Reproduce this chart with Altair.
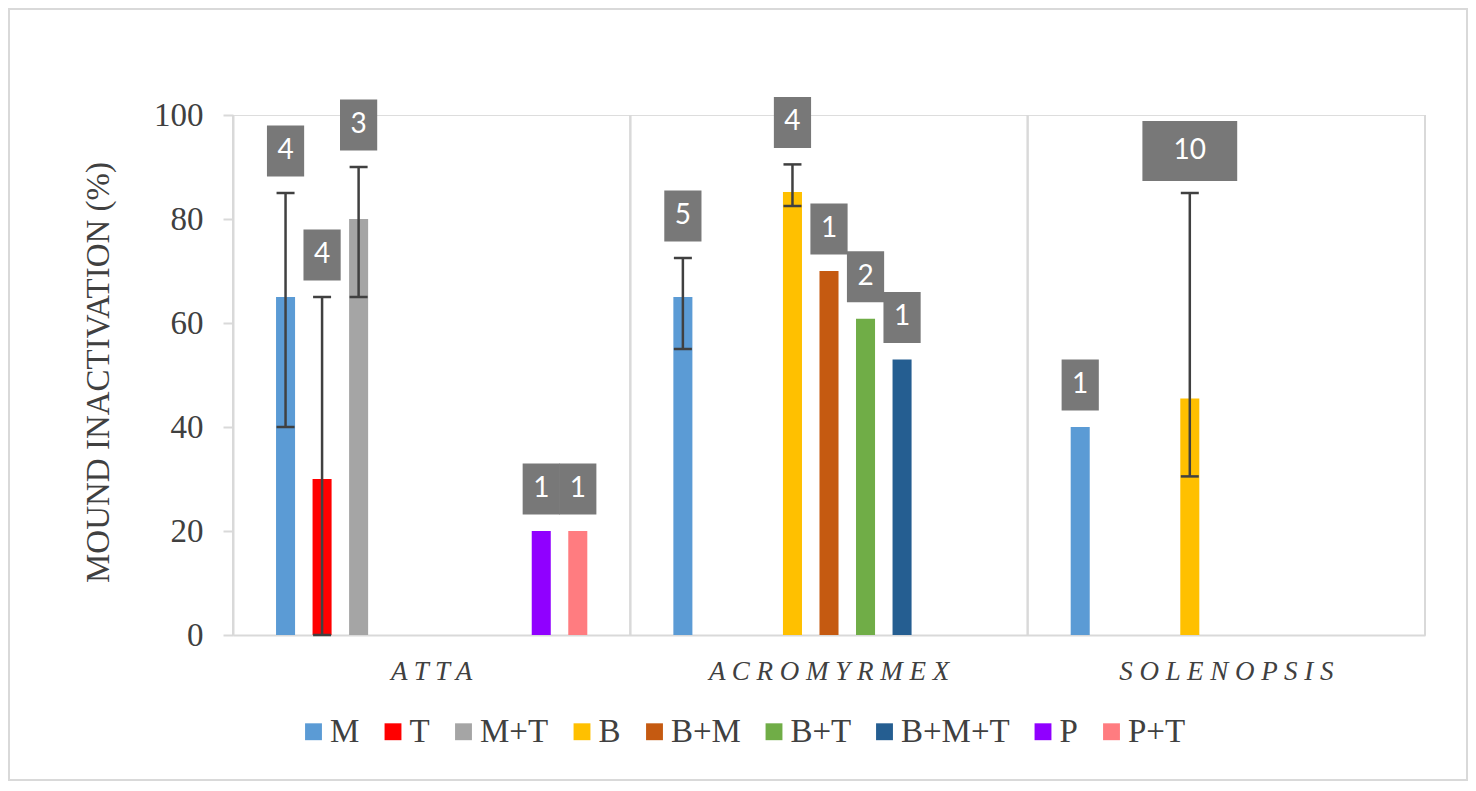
import altair as alt
import pandas as pd
import numpy as np

# ---- data ----
genera = ["ATTA", "ACROMYRMEX", "SOLENOPSIS"]
treatments = ["M", "T", "M+T", "B", "B+M", "B+T", "B+M+T", "P", "P+T"]
colors = ["#5B9BD5", "#FF0000", "#A5A5A5", "#FFC000", "#C55A11",
          "#70AD47", "#255E91", "#9000FF", "#FF7C80"]

genus = ["ATTA", "ATTA", "ATTA", "ATTA", "ATTA",
         "ACROMYRMEX", "ACROMYRMEX", "ACROMYRMEX", "ACROMYRMEX", "ACROMYRMEX",
         "SOLENOPSIS", "SOLENOPSIS"]
treatment = ["M", "T", "M+T", "P", "P+T",
             "M", "B", "B+M", "B+T", "B+M+T",
             "M", "B"]
mean = [65, 30, 80, 20, 20,
        65, 85.2, 70, 60.8, 53,
        40, 45.5]
err_low = [40, 0, 65, None, None,
           55, 82.5, None, None, None,
           None, 30.5]
err_high = [85, 65, 90, None, None,
            72.5, 90.5, None, None, None,
            None, 85]
n_obs = [4, 4, 3, 1, 1,
         5, 4, 1, 2, 1,
         1, 10]

df = pd.DataFrame({"genus": genus, "treatment": treatment, "mean": mean,
                   "low": err_low, "high": err_high, "n": n_obs})
df["top"] = np.fmax(df["mean"], df["high"].astype(float))
df_err = df.dropna(subset=["low", "high"])
df_g = pd.DataFrame({"genus": genera})

GRID = "#D9D9D9"
TXT = "#404040"
SERIF = "Liberation Serif"

# empty slots at both ends of each group (Excel gap width)
offset_domain = ["_l"] + treatments + ["_r"]

x_enc = alt.X("genus:N", sort=genera,
              scale=alt.Scale(paddingInner=0, paddingOuter=0),
              axis=alt.Axis(title=None, labelAngle=0, ticks=False, grid=False,
                            domainColor=GRID, domainWidth=2,
                            labelFont=SERIF, labelFontStyle="italic",
                            labelFontSize=27, labelColor=TXT, labelPadding=36,
                            labelLimit=0, labelAlign="center",
                            labelExpr="join(split(datum.label, ''), ' ')"))
xo_enc = alt.XOffset("treatment:N",
                     scale=alt.Scale(domain=offset_domain, paddingInner=0.479,
                                     paddingOuter=0.178))
y_scale = alt.Scale(domain=[0, 100], nice=False)
y_axis = alt.Axis(values=[0, 20, 40, 60, 80, 100], grid=False,
                  domainColor=GRID, domainWidth=2, tickColor=GRID, tickWidth=2,
                  tickSize=10, labelFont=SERIF, labelFontSize=33,
                  labelColor=TXT, labelPadding=20,
                  title="MOUND INACTIVATION (%)", titleFont=SERIF,
                  titleFontSize=33, titleFontWeight="normal", titleColor=TXT,
                  titleAngle=-90, titleX=-135, titleY=257,
                  titleAlign="center", titleBaseline="middle")

# vertical separators between genera (band starts and ends)
sep0 = alt.Chart(df_g).mark_rule(color=GRID, strokeWidth=2).encode(
    x=alt.X("genus:N", sort=genera, bandPosition=0),
    y=alt.datum(0, scale=y_scale), y2=alt.datum(100))
sep1 = alt.Chart(df_g).mark_rule(color=GRID, strokeWidth=2).encode(
    x=alt.X("genus:N", sort=genera, bandPosition=1),
    y=alt.datum(0), y2=alt.datum(100))

bars = alt.Chart(df).mark_bar().encode(
    x=x_enc, xOffset=xo_enc,
    y=alt.Y("mean:Q", scale=y_scale, axis=y_axis),
    color=alt.Color("treatment:N", sort=treatments,
                    scale=alt.Scale(domain=treatments, range=colors),
                    legend=alt.Legend(title=None, orient="none",
                                      direction="horizontal",
                                      legendX=64, legendY=600, padding=0,
                                      symbolType="square", symbolSize=285,
                                      symbolStrokeWidth=0, symbolOpacity=1,
                                      labelFont=SERIF, labelFontSize=33,
                                      labelColor=TXT, labelOffset=0,
                                      columnPadding=16.5, labelLimit=0)))

err_rule = alt.Chart(df_err).mark_rule(color="#404040", strokeWidth=2.5).encode(
    x=x_enc, xOffset=xo_enc, y="low:Q", y2="high:Q")
cap_hi = alt.Chart(df_err).mark_tick(color="#404040", thickness=2.5, size=18,
                                     opacity=1).encode(
    x=x_enc, xOffset=xo_enc, y="high:Q")
cap_lo = alt.Chart(df_err).mark_tick(color="#404040", thickness=2.5, size=18,
                                     opacity=1).encode(
    x=x_enc, xOffset=xo_enc, y="low:Q")

narrow = "M-0.62,-0.85H0.62V0.85H-0.62Z"
wide = "M-1.58,-1H1.58V1H-1.58Z"
boxes = alt.Chart(df).mark_point(filled=True, color="#787878", opacity=1,
                                 size=3600, strokeWidth=0, yOffset=-42).encode(
    x=x_enc, xOffset=xo_enc, y="top:Q",
    shape=alt.condition("datum.n >= 10", alt.value(wide), alt.value(narrow)))
labels = alt.Chart(df).mark_text(color="white", font="Lato", fontSize=28,
                                 baseline="middle", yOffset=-42).encode(
    x=x_enc, xOffset=xo_enc, y="top:Q", text="n:Q")

frame = alt.Chart(alt.Data(values=[{"a": 1}])).mark_rect(
    fillOpacity=0, stroke=GRID, strokeWidth=2).encode(
    x=alt.value(-224), x2=alt.value(1234), y=alt.value(-106), y2=alt.value(665))

chart = alt.layer(sep0, sep1, bars, err_rule, cap_hi, cap_lo, boxes, labels,
                  frame).properties(
    width=1192, height=520,
    autosize=alt.AutoSizeParams(type="none"),
    padding={"left": 225, "top": 107, "right": 43, "bottom": 148},
).configure_view(stroke=None).configure(background="white")

chart.save("out.html", embed_options={"renderer": "svg", "actions": False})
